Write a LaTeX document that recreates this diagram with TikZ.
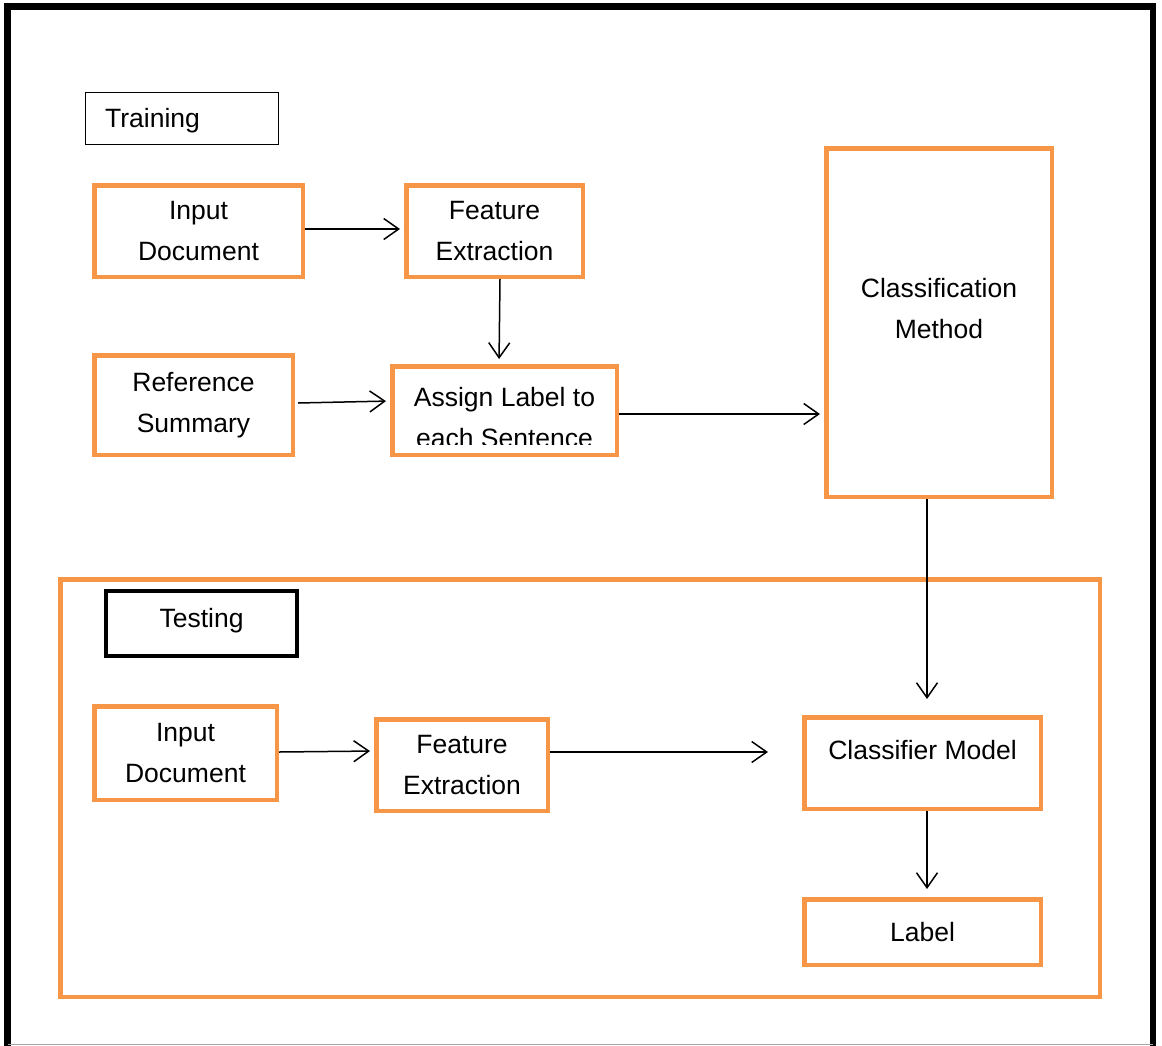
\documentclass[tikz,border=0pt]{standalone}
\usepackage{fontspec}
\setmainfont{Liberation Sans}
\usetikzlibrary{arrows.meta}
\definecolor{orng}{HTML}{F79646}
\begin{document}
\begin{tikzpicture}[x=1pt,y=-1pt,
  font=\fontsize{26.5}{41}\selectfont,
  obox/.style={draw=orng, line width=4.5pt, rectangle, align=center, inner sep=0pt},
  txt/.style={inner sep=0pt, align=center},
  arr/.style={line width=1.5pt, -{Straight Barb[length=15pt,width=21pt,line width=1.5pt]}}]
\useasboundingbox (0,0) rectangle (1162,1045);
% outer frame
\draw[line width=6.5pt] (7.5,1047) -- (7.5,6.5) -- (1153,6.5) -- (1153,1047);
\draw[gray!70, line width=1.5pt] (7.5,1044.5) -- (1153,1044.5);
% training label
\node[draw, line width=1pt, minimum width=193pt, minimum height=52pt, inner sep=0pt] (trbox) at (182,118.5) {};
\node[txt, anchor=west] (trtxt) at (105,121) {Training};
% training boxes
\node[obox, minimum width=208.5pt, minimum height=91.5pt] (in1) at (198.5,231) {Input\\Document};
\node[obox, minimum width=176.5pt, minimum height=91.5pt] (fe1) at (494.5,231) {Feature\\Extraction};
\node[obox, minimum width=225.5pt, minimum height=348.5pt] (cm) at (939,322.5) {};
\node[txt] (cmtxt) at (939,309) {Classification\\Method};
\node[obox, minimum width=198.5pt, minimum height=99.5pt] (rs) at (193.5,405) {Reference\\Summary};
\begin{scope}
\clip (392,366) rectangle (617,444);
\node[txt] (altxt) at (504.5,418) {Assign Label to\\each Sentence};
\end{scope}
\node[obox, minimum width=224.5pt, minimum height=88.5pt] (al) at (504.5,410.5) {};
% testing frame
\node[draw=orng, line width=4.5pt, minimum width=1039.5pt, minimum height=417.5pt, inner sep=0pt] (testframe) at (580,788) {};
\node[draw, line width=4pt, minimum width=191pt, minimum height=65pt, inner sep=0pt] (tsbox) at (201.5,623.5) {};
\node[txt] (tstxt) at (201.5,621) {Testing};
\node[obox, minimum width=182.5pt, minimum height=93.5pt] (in2) at (185.5,753) {Input\\Document};
\node[obox, minimum width=171.5pt, minimum height=91.5pt] (fe2) at (462,765) {Feature\\Extraction};
\node[obox, minimum width=236.5pt, minimum height=91.5pt] (cmod) at (922.5,763) {};
\node[txt] (cmodtxt) at (922.5,750) {Classifier Model};
\node[obox, minimum width=236.5pt, minimum height=65.5pt] (lab) at (922.5,932) {Label};
\coordinate (fe2end) at (768,752);
% arrows
\draw[arr, shorten >=4pt] ([yshift=2pt]in1.east) -- ([yshift=2pt]fe1.west);
\draw[arr, shorten >=5pt] ([xshift=5.5pt]fe1.south) -- ([xshift=-5.5pt]al.north);
\draw[arr, shorten >=4pt] ([yshift=2pt,xshift=3pt]rs.east) -- ([yshift=9.5pt]al.west);
\draw[arr, shorten >=4pt] ([yshift=-3.5pt]al.east) -- ([yshift=-3.5pt]al.east -| cm.west);
\draw[arr, shorten >=16pt] ([xshift=-12pt]cm.south) -- ([xshift=-12pt]cm.south |- cmod.north);
\draw[arr, shorten >=4pt] ([yshift=1pt]in2.east) -- ([yshift=14pt]fe2.west);
\draw[arr] ([yshift=13pt]fe2.east) -- (fe2end);
\draw[arr, shorten >=8pt] ([xshift=4.5pt]cmod.south) -- ([xshift=4.5pt]lab.north);
\end{tikzpicture}
\end{document}
